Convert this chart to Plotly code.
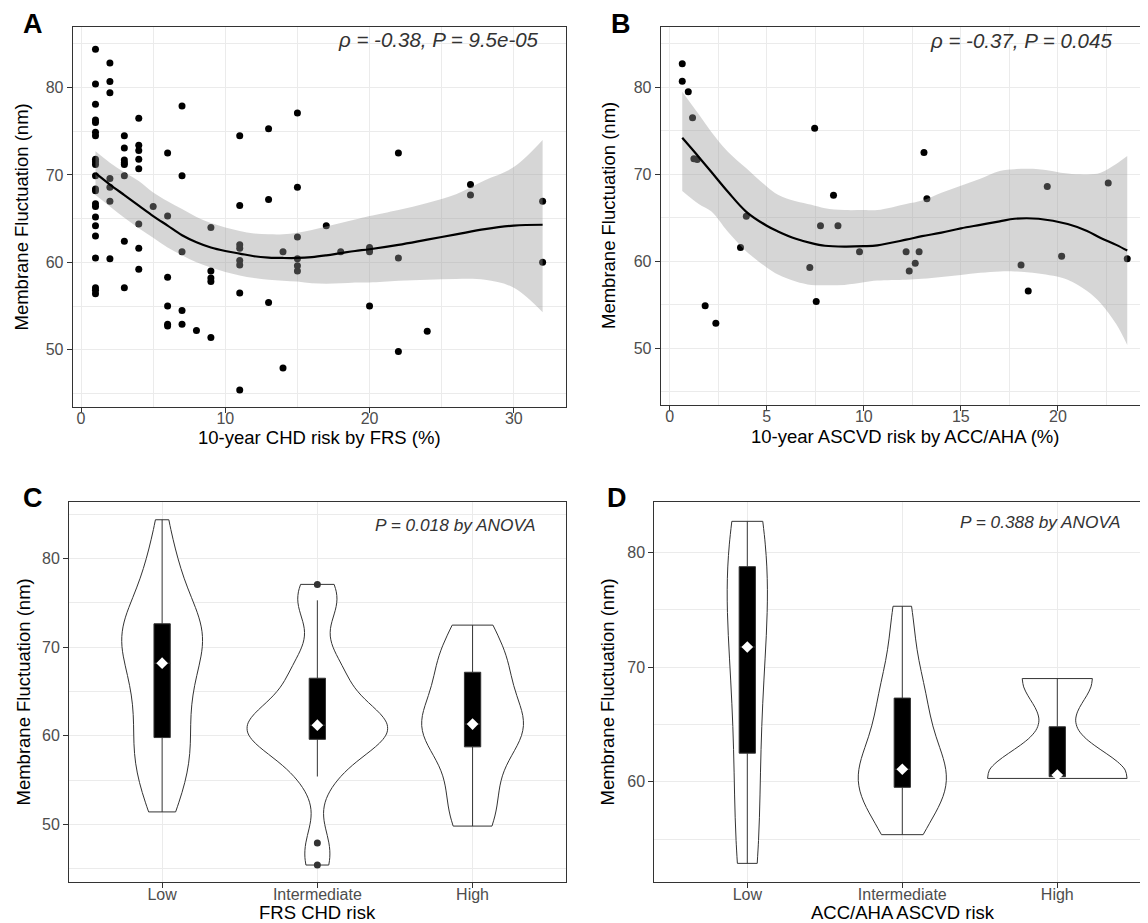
import numpy as np
import plotly.graph_objects as go

# ---------------- data ----------------
# Panel A: 10-year CHD risk by FRS (%) vs membrane fluctuation (nm)
frs_risk = [
    1, 1, 1, 1, 1, 1, 1, 1, 1, 1, 1, 1, 1, 1, 1, 1, 1, 1, 1, 1, 1, 1,
    2, 2, 2, 2, 2, 2, 2,
    3, 3, 3, 3, 3, 3, 3, 3,
    4, 4, 4, 4, 4, 4, 4, 4,
    5,
    6, 6, 6, 6, 6, 6,
    7, 7, 7, 7, 7,
    8,
    9, 9, 9, 9, 9,
    11, 11, 11, 11, 11, 11, 11, 11,
    13, 13, 13,
    14, 14,
    15, 15, 15, 15, 15, 15,
    17, 18,
    20, 20, 20, 20,
    22, 22, 22,
    24,
    27, 27,
    32, 32]
frs_fluct = [
    84.4, 80.4, 78.1, 76.3, 76.0, 74.9, 74.5, 71.8, 71.5, 71.2, 69.9, 68.4, 68.2, 66.7, 66.4, 65.2, 64.2, 63.0, 60.5, 57.1, 56.8, 56.4,
    82.8, 80.7, 79.4, 69.6, 68.6, 67.0, 60.4,
    74.5, 73.1, 71.7, 71.4, 71.2, 69.9, 62.4, 57.1,
    76.5, 73.4, 72.8, 71.8, 70.7, 64.4, 61.6, 59.2,
    66.4,
    72.5, 65.3, 58.3, 55.0, 52.9, 52.7,
    77.9, 69.9, 61.2, 54.5, 52.9,
    52.2,
    64.0, 59.0, 58.2, 57.8, 51.4,
    74.5, 66.5, 62.0, 61.6, 60.2, 59.7, 56.5, 45.4,
    75.3, 67.2, 55.4,
    61.2, 47.9,
    77.1, 68.6, 62.9, 60.4, 59.6, 59.0,
    64.2, 61.2,
    61.7, 61.45, 61.2, 55.0,
    72.5, 60.5, 49.8,
    52.1,
    68.9, 67.7,
    67.0, 60.0]

# loess fit (line and 95% band)
smooth_a_x = [1, 2, 3, 4, 5, 6, 7, 8, 9, 10, 11, 12, 13, 14, 15, 16, 17, 18, 19, 20, 22, 24, 26, 28, 30, 32]
smooth_a_y = [70.2, 68.9, 67.7, 66.5, 65.3, 64.2, 63.1, 62.3, 61.7, 61.3, 61.0, 60.7, 60.55, 60.5, 60.5, 60.6,
              60.8, 61.05, 61.3, 61.5, 62.0, 62.6, 63.2, 63.8, 64.2, 64.3]
smooth_a_hi = [72.7, 71.4, 70.3, 69.3, 68.0, 67.0, 66.1, 65.2, 64.5, 64.0, 63.6, 63.3, 63.2, 63.2, 63.4, 63.7,
               64.1, 64.5, 64.9, 65.3, 66.0, 66.8, 67.8, 69.4, 70.9, 74.0]
smooth_a_lo = [67.7, 66.4, 65.1, 63.9, 62.8, 61.7, 60.8, 60.0, 59.4, 58.9, 58.5, 58.2, 58.0, 57.9, 57.8, 57.6,
               57.55, 57.6, 57.7, 57.7, 57.9, 58.0, 58.1, 58.0, 57.1, 54.3]

# Panel B: 10-year ASCVD risk by ACC/AHA (%) vs membrane fluctuation (nm)
acc_risk = [0.65, 0.65, 0.96, 1.18, 1.25, 1.42, 1.83, 2.38, 3.65, 3.95, 7.22, 7.47, 7.55, 7.77, 8.44,
            8.67, 9.78, 12.18, 12.34, 12.65, 12.85, 13.1, 13.25, 18.1, 18.47, 19.45, 20.19, 22.59, 23.57]
acc_fluct = [82.7, 80.7, 79.5, 76.5, 71.8, 71.7, 54.9, 52.9, 61.6, 65.2, 59.3, 75.3, 55.4, 64.1, 67.6,
             64.1, 61.1, 61.1, 58.9, 59.8, 61.1, 72.5, 67.2, 59.6, 56.6, 68.6, 60.6, 69.0, 60.3]

smooth_b_x = [0.65, 1.5, 2.14, 3, 3.95, 5, 5.58, 6.5, 7.3, 8, 9, 10, 10.7, 12.18, 13, 14, 15, 16, 17,
              17.77, 19, 20.5, 21.5, 22.2, 23, 23.57]
smooth_b_y = [74.2, 72.0, 70.3, 68.0, 65.7, 64.1, 63.45, 62.6, 62.1, 61.8, 61.7, 61.75, 61.85, 62.5, 62.9,
              63.3, 63.8, 64.2, 64.6, 64.9, 64.9, 64.3, 63.5, 62.7, 61.9, 61.25]
smooth_b_hi = [79.5, 76.9, 74.9, 72.6, 70.7, 68.6, 67.65, 66.9, 66.5, 66.1, 65.9, 65.9, 65.9, 66.6, 67.0,
               67.9, 68.7, 69.5, 70.4, 70.6, 70.6, 70.1, 70.0, 70.2, 71.2, 72.1]
smooth_b_lo = [68.1, 66.6, 65.75, 63.4, 61.15, 59.3, 58.5, 57.7, 57.3, 57.25, 57.3, 57.6, 57.8, 57.9, 58.0,
               58.2, 58.45, 58.7, 58.85, 58.85, 58.6, 57.9, 56.6, 55.2, 52.8, 50.4]

risk_categories = ["Low", "Intermediate", "High"]
frs_cutoffs = [10, 20]   # FRS: <10 low, 10-20 intermediate, >=20 high
acc_cutoffs = [5, 20]    # ACC/AHA: <5 low, 5-20 intermediate, >=20 high

annot_a = "ρ = -0.38, P = 9.5e-05"
annot_b = "ρ = -0.37, P = 0.045"
annot_c = "P = 0.018 by ANOVA"
annot_d = "P = 0.388 by ANOVA"

# ---------------- helpers ----------------
W, H = 1148, 923
FONT = "Liberation Sans, Arial, sans-serif"
GRID = "#EBEBEB"
DARK = "#333333"


def px(x):
    return x / W


def py(y):
    return 1 - y / H


def groups(risk, vals, cuts):
    out = {c: [] for c in risk_categories}
    for r, v in zip(risk, vals):
        if r < cuts[0]:
            out["Low"].append(v)
        elif r < cuts[1]:
            out["Intermediate"].append(v)
        else:
            out["High"].append(v)
    return out


def nrd0(v):
    v = np.asarray(v, float)
    hi = np.std(v, ddof=1)
    iqr = np.percentile(v, 75) - np.percentile(v, 25)
    lo = min(hi, iqr / 1.34)
    if lo <= 0:
        lo = hi
    return 0.9 * lo * len(v) ** -0.2


def kde_peak(v, bw):
    v = np.asarray(v, float)
    g = np.linspace(v.min(), v.max(), 512)
    d = np.exp(-0.5 * ((g[:, None] - v[None, :]) / bw) ** 2).sum(axis=1) / (len(v) * bw * np.sqrt(2 * np.pi))
    return d.max()


def box_stats(v):
    v = np.sort(np.asarray(v, float))
    q1, med, q3 = np.percentile(v, [25, 50, 75])
    iqr = q3 - q1
    lo = v[v >= q1 - 1.5 * iqr].min()
    hi = v[v <= q3 + 1.5 * iqr].max()
    outl = v[(v < lo) | (v > hi)]
    return q1, med, q3, lo, hi, outl


fig = go.Figure()

# ---------------- scatter panels ----------------
def scatter_panel(xa, ya, rx, ry, sx, sy, slo, shi):
    fig.add_trace(go.Scatter(x=rx, y=ry, mode="markers", xaxis=xa, yaxis=ya,
                             marker=dict(color="black", size=7), showlegend=False, hoverinfo="skip"))
    fig.add_trace(go.Scatter(x=sx, y=slo, mode="lines", xaxis=xa, yaxis=ya,
                             line=dict(width=0, color="rgba(0,0,0,0)", shape="spline"),
                             showlegend=False, hoverinfo="skip"))
    fig.add_trace(go.Scatter(x=sx, y=shi, mode="lines", xaxis=xa, yaxis=ya, fill="tonexty",
                             fillcolor="rgba(153,153,153,0.4)",
                             line=dict(width=0, color="rgba(0,0,0,0)", shape="spline"),
                             showlegend=False, hoverinfo="skip"))
    fig.add_trace(go.Scatter(x=sx, y=sy, mode="lines", xaxis=xa, yaxis=ya,
                             line=dict(color="black", width=2.2, shape="spline"), showlegend=False,
                             hoverinfo="skip"))


scatter_panel("x", "y", frs_risk, frs_fluct, smooth_a_x, smooth_a_y, smooth_a_lo, smooth_a_hi)
scatter_panel("x2", "y2", acc_risk, acc_fluct, smooth_b_x, smooth_b_y, smooth_b_lo, smooth_b_hi)

# ---------------- violin panels (area-scaled like ggplot) ----------------
def violin_panel(xa, ya, grp, tag):
    bws = {c: nrd0(grp[c]) for c in risk_categories}
    peaks = {c: kde_peak(grp[c], bws[c]) for c in risk_categories}
    pmax = max(peaks.values())
    for c in risk_categories:
        v = grp[c]
        fig.add_trace(go.Violin(x=[c] * len(v), y=v, xaxis=xa, yaxis=ya, side="both", spanmode="hard",
                                bandwidth=bws[c], scalegroup=tag + c, scalemode="width",
                                width=0.9 * peaks[c] / pmax,
                                fillcolor="white", line=dict(color=DARK, width=1), points=False,
                                box_visible=False, meanline_visible=False, showlegend=False,
                                hoverinfo="skip", opacity=1))
    stats = [box_stats(grp[c]) for c in risk_categories]
    fig.add_trace(go.Box(x=risk_categories, q1=[s[0] for s in stats], median=[s[1] for s in stats],
                         q3=[s[2] for s in stats], lowerfence=[s[3] for s in stats],
                         upperfence=[s[4] for s in stats], xaxis=xa, yaxis=ya, fillcolor="black",
                         line=dict(color=DARK, width=1), width=0.105, whiskerwidth=0,
                         showlegend=False, hoverinfo="skip"))
    ox, oy = [], []
    for c, s in zip(risk_categories, stats):
        for o in s[5]:
            ox.append(c)
            oy.append(o)
    fig.add_trace(go.Scatter(x=ox, y=oy, mode="markers", xaxis=xa, yaxis=ya,
                             marker=dict(color=DARK, size=7), showlegend=False, hoverinfo="skip"))
    fig.add_trace(go.Scatter(x=risk_categories, y=[s[1] for s in stats], mode="markers", xaxis=xa,
                             yaxis=ya, marker=dict(color="white", size=9, symbol="diamond", line=dict(width=0)),
                             showlegend=False, hoverinfo="skip"))


violin_panel("x3", "y3", groups(frs_risk, frs_fluct, frs_cutoffs), "C")
violin_panel("x4", "y4", groups(acc_risk, acc_fluct, acc_cutoffs), "D")

# ---------------- axes ----------------
tickfont = dict(family=FONT, size=16, color="#4D4D4D")
base = dict(showline=True, mirror=True, linecolor=DARK, linewidth=1, ticks="outside", ticklen=5,
            tickwidth=1, tickcolor=DARK, showgrid=True, gridcolor=GRID, gridwidth=1.1, zeroline=False,
            tickfont=tickfont)


def num_axis(dom, rng, dtick, minor_dtick, tick0=0, **kw):
    d = dict(base)
    d.update(domain=dom, range=rng, dtick=dtick, tick0=tick0,
             minor=dict(dtick=minor_dtick, tick0=tick0, showgrid=True, gridcolor=GRID, gridwidth=0.6,
                        ticks=""))
    d.update(kw)
    return d


def cat_axis(dom, **kw):
    d = dict(base)
    d.update(domain=dom, range=[-0.6, 2.6], type="category", categoryorder="array",
             categoryarray=risk_categories)
    d.update(kw)
    return d


dA_x = [px(64.7), px(557.7)]
dA_y = [py(398.5), py(19.3)]
dB_x = [px(652.7), px(1141)]
dB_y = [py(397), py(19.3)]
dC_x = [px(61), px(557.7)]
dC_y = [py(874.3), py(493.7)]
dD_x = [px(646.3), px(1142.3)]
dD_y = [py(874.3), py(493.7)]

XSTAND = -8
fig.update_layout(
    width=W, height=H, margin=dict(l=0, r=0, t=0, b=0),
    paper_bgcolor="white", plot_bgcolor="white", hovermode=False,
    boxmode="overlay", violinmode="overlay",
    xaxis=num_axis(dA_x, [-0.58, 33.6], 10, 5, anchor="y", ticklabelstandoff=XSTAND),
    yaxis=num_axis(dA_y, [43.5, 86.9], 10, 5, anchor="x"),
    xaxis2=num_axis(dB_x, [-0.46, 24.69], 5, 2.5, anchor="y2", ticklabelstandoff=XSTAND),
    yaxis2=num_axis(dB_y, [43.5, 86.9], 10, 5, anchor="x2"),
    xaxis3=cat_axis(dC_x, anchor="y3", ticklabelstandoff=XSTAND),
    yaxis3=num_axis(dC_y, [43.45, 86.44], 10, 5, anchor="x3"),
    xaxis4=cat_axis(dD_x, anchor="y4", ticklabelstandoff=XSTAND),
    yaxis4=num_axis(dD_y, [51.25, 84.41], 10, 5, anchor="x4"),
)

# ---------------- text ----------------
ann = []
SHIFT = 8  # plotly draws 'middle'-anchored text a little low; compensate


def text(x, y, s, size, color="black", xanchor="center", angle=0, bold=False, italic=False):
    if bold:
        s = "<b>" + s + "</b>"
    if italic:
        s = "<i>" + s + "</i>"
    d = dict(x=px(x), y=py(y), xref="paper", yref="paper", text=s, showarrow=False,
             xanchor=xanchor, yanchor="middle", textangle=angle,
             font=dict(family=FONT, size=size, color=color))
    if angle == -90:
        d["xshift"] = -SHIFT
    else:
        d["yshift"] = SHIFT
    ann.append(d)


# panel letters
text(12.5, 24, "A", 27, xanchor="left", bold=True)
text(601, 24, "B", 27, xanchor="left", bold=True)
text(12.5, 498, "C", 27, xanchor="left", bold=True)
text(597, 498, "D", 27, xanchor="left", bold=True)

# axis titles
text(20.5, 209, "Membrane Fluctuation (nm)", 18.5, angle=-90)
text(608, 208, "Membrane Fluctuation (nm)", 18.5, angle=-90)
text(22.5, 684, "Membrane Fluctuation (nm)", 18.5, angle=-90)
text(606.5, 684, "Membrane Fluctuation (nm)", 18.5, angle=-90)
text(311, 437.5, "10-year CHD risk by FRS (%)", 18.5)
text(897, 436.5, "10-year ASCVD risk by ACC/AHA (%)", 18.5)
text(309.5, 912.5, "FRS CHD risk", 18.5)
text(894.5, 912.5, "ACC/AHA ASCVD risk", 18.5)

# statistics
text(533, 40, annot_a, 20.5, color=DARK, xanchor="right", italic=True)
text(1106, 41, annot_b, 20.5, color=DARK, xanchor="right", italic=True)
text(530, 525, annot_c, 17.3, color=DARK, xanchor="right", italic=True)
text(1115, 522, annot_d, 17.3, color=DARK, xanchor="right", italic=True)

fig.update_layout(annotations=ann)

fig.write_html("out.html")
